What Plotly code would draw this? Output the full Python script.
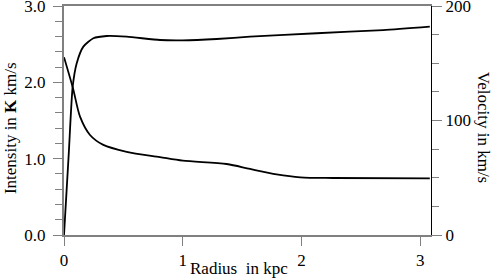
import plotly.graph_objects as go

# Data
radius_vel = [0.0, 0.04, 0.073, 0.107, 0.163, 0.247, 0.36, 0.528, 0.808, 1.0, 1.286, 1.566, 2.128, 2.687, 3.08]
velocity = [0.0, 71.0, 129.5, 150.0, 164.5, 171.8, 173.8, 173.2, 170.3, 170.0, 171.2, 173.2, 176.2, 179.0, 182.0]

radius_int = [0.0, 0.076, 0.135, 0.219, 0.331, 0.528, 0.808, 1.0, 1.37, 1.566, 1.79, 1.99, 2.265, 3.08]
intensity = [2.33, 1.92, 1.55, 1.31, 1.18, 1.09, 1.02, 0.973, 0.93, 0.865, 0.795, 0.756, 0.747, 0.743]

x_ticks = [0, 1, 2, 3]
y_ticks = [0, 1, 2, 3]
y_tick_labels = ["0.0", "1.0", "2.0", "3.0"]
y2_ticks = [0, 100, 200]

GRAY = "#808080"
FONT = "Liberation Serif"

fig = go.Figure()
fig.add_trace(go.Scatter(x=radius_int, y=intensity, mode="lines",
                         line=dict(color="black", width=1.8, shape="spline", smoothing=0.8),
                         yaxis="y", showlegend=False, hoverinfo="skip"))
fig.add_trace(go.Scatter(x=radius_vel, y=velocity, mode="lines",
                         line=dict(color="black", width=1.8, shape="spline", smoothing=0.6),
                         yaxis="y2", showlegend=False, hoverinfo="skip"))

fig.update_layout(
    width=493, height=279,
    margin=dict(l=64, r=62, t=6, b=44, autoexpand=False),
    paper_bgcolor="white", plot_bgcolor="white",
    font=dict(family=FONT, size=17, color="black"),
    xaxis=dict(range=[0, 3.09], tickvals=x_ticks, ticks="outside", ticklen=9,
               tickcolor=GRAY, showline=True, linecolor=GRAY, linewidth=2,
               mirror=True, showgrid=False, zeroline=False, automargin=False,
               ticklabeloverflow="allow",
               tickfont=dict(family=FONT, size=17)),
    yaxis=dict(range=[0, 3], tickvals=y_ticks, ticktext=y_tick_labels,
               ticks="outside", ticklen=9, tickcolor=GRAY,
               showline=True, linecolor=GRAY, linewidth=2, automargin=False,
               showgrid=False, zeroline=False, ticklabelstandoff=4,
               ticklabeloverflow="allow",
               minor=dict(dtick=0.2, ticks="outside", ticklen=7, tickcolor=GRAY),
               tickfont=dict(family=FONT, size=17)),
    yaxis2=dict(range=[0, 200], tickvals=y2_ticks, overlaying="y", side="right",
                ticks="outside", ticklen=10, tickcolor=GRAY, automargin=False,
                showline=True, linecolor="black", linewidth=1,
                showgrid=False, zeroline=False, ticklabeloverflow="allow",
                minor=dict(dtick=25, ticks="outside", ticklen=7, tickcolor=GRAY),
                tickfont=dict(family=FONT, size=17)),
    annotations=[
        dict(text="Radius  in kpc", xref="paper", yref="paper", x=0.477, y=-0.148,
             xanchor="center", yanchor="middle", showarrow=False,
             font=dict(family=FONT, size=17)),
        dict(text="Intensity in <b>K</b> km/s", xref="paper", yref="paper", x=-0.147, y=0.467,
             xanchor="center", yanchor="middle", textangle=-90, showarrow=False,
             font=dict(family=FONT, size=17)),
        dict(text="Velocity in km/s", xref="paper", yref="paper", x=1.142, y=0.472,
             xanchor="center", yanchor="middle", textangle=90, showarrow=False,
             font=dict(family=FONT, size=17)),
    ],
)

fig.write_html("out.html", config={"displayModeBar": False},
               post_script="document.body.style.margin='0';document.body.style.overflow='hidden';")
